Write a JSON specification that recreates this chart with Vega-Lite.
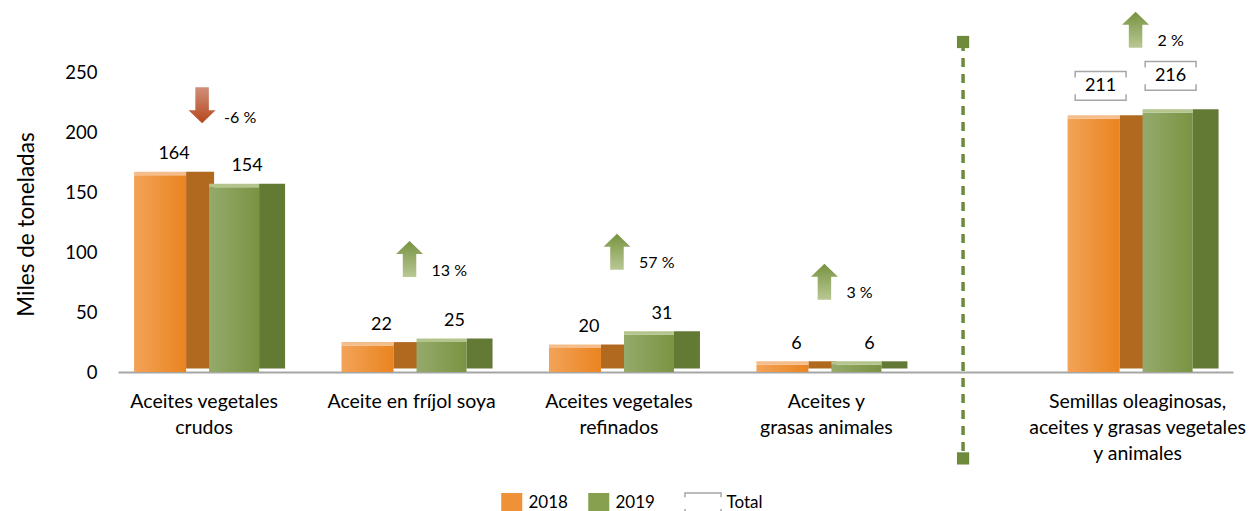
{
  "$schema": "https://vega.github.io/schema/vega-lite/v6.json",
  "width": 1115,
  "height": 360,
  "autosize": {"type": "none"},
  "padding": {"left": 118, "top": 12, "right": 17, "bottom": 139},
  "background": "white",
  "config": {
    "view": {"stroke": null},
    "font": "Lato",
    "text": {"font": "Lato", "color": "#000000"}
  },
  "data": {
    "values": [
      {"cat": "Aceites vegetales crudos", "year": "2018", "value": 164, "change": "-6 %", "dir": "down"},
      {"cat": "Aceites vegetales crudos", "year": "2019", "value": 154, "change": "-6 %", "dir": "down"},
      {"cat": "Aceite en fríjol soya", "year": "2018", "value": 22, "change": "13 %", "dir": "up"},
      {"cat": "Aceite en fríjol soya", "year": "2019", "value": 25, "change": "13 %", "dir": "up"},
      {"cat": "Aceites vegetales refinados", "year": "2018", "value": 20, "change": "57 %", "dir": "up"},
      {"cat": "Aceites vegetales refinados", "year": "2019", "value": 31, "change": "57 %", "dir": "up"},
      {"cat": "Aceites y grasas animales", "year": "2018", "value": 6, "change": "3 %", "dir": "up"},
      {"cat": "Aceites y grasas animales", "year": "2019", "value": 6, "change": "3 %", "dir": "up"},
      {"cat": "Semillas oleaginosas, aceites y grasas vegetales y animales", "year": "2018", "value": 211, "change": "2 %", "dir": "up"},
      {"cat": "Semillas oleaginosas, aceites y grasas vegetales y animales", "year": "2019", "value": 216, "change": "2 %", "dir": "up"}
    ]
  },
  "encoding": {
    "x": {
      "field": "cat",
      "type": "nominal",
      "scale": {
        "domain": ["s0", "Aceites vegetales crudos", "s1", "s2", "s3", "Aceite en fríjol soya", "s4", "s5", "s6", "Aceites vegetales refinados", "s7", "s8", "s9", "Aceites y grasas animales", "s10", "s11", "sep", "s12", "s13", "Semillas oleaginosas, aceites y grasas vegetales y animales", "s14"],
        "paddingInner": 0,
        "paddingOuter": 0.25,
        "align": 0.32
      },
      "axis": {
        "title": null,
        "ticks": false,
        "tickSize": 0,
        "grid": false,
        "domainColor": "#a6a6a6",
        "domainWidth": 2,
        "labelAngle": 0,
        "labelFont": "Lato",
        "labelFontSize": 19.5,
        "labelColor": "#000000",
        "labelPadding": 20,
        "labelLineHeight": 26,
        "labelLimit": 0,
        "labelOverlap": false,
        "labelFlush": false,
        "labelExpr": "datum.value == 'Aceites vegetales crudos' ? ['Aceites vegetales', 'crudos'] : datum.value == 'Aceites vegetales refinados' ? ['Aceites vegetales', 'refinados'] : datum.value == 'Aceites y grasas animales' ? ['Aceites y', 'grasas animales'] : datum.value == 'Semillas oleaginosas, aceites y grasas vegetales y animales' ? ['Semillas oleaginosas,', 'aceites y grasas vegetales', 'y animales'] : datum.value == 'Aceite en fríjol soya' ? datum.value : ''"
      }
    },
    "y": {
      "field": "value",
      "type": "quantitative",
      "scale": {"domain": [0, 300]},
      "axis": {
        "title": "Miles de toneladas",
        "titleFont": "Lato",
        "titleFontSize": 22.5,
        "titleFontWeight": "normal",
        "titleColor": "#000000",
        "titlePadding": 26,
        "titleY": 212,
        "values": [0, 50, 100, 150, 200, 250],
        "domain": false,
        "ticks": false,
        "grid": false,
        "labelFont": "Lato",
        "labelFontSize": 18.5,
        "labelColor": "#000000",
        "labelPadding": 21
      }
    }
  },
  "layer": [
    {
      "transform": [{"filter": "datum.year == '2018' && datum.dir == 'down'"}],
      "mark": {"type": "rule", "color": "#6e8b3d", "strokeWidth": 3.5, "strokeDash": [9, 7]},
      "encoding": {
        "x": {"datum": "sep", "type": "nominal", "bandPosition": 0.135},
        "y": {"datum": 275, "type": "quantitative"},
        "y2": {"datum": -72}
      }
    },
    {
      "transform": [{"filter": "datum.year == '2018' && datum.dir == 'down'"}],
      "mark": {"type": "square", "filled": true, "size": 150, "color": "#6e8b3d", "opacity": 1},
      "encoding": {
        "x": {"datum": "sep", "type": "nominal", "bandPosition": 0.135},
        "y": {"datum": 275, "type": "quantitative"}
      }
    },
    {
      "transform": [{"filter": "datum.year == '2018' && datum.dir == 'down'"}],
      "mark": {"type": "square", "filled": true, "size": 150, "color": "#6e8b3d", "opacity": 1},
      "encoding": {
        "x": {"datum": "sep", "type": "nominal", "bandPosition": 0.135},
        "y": {"datum": -72, "type": "quantitative"}
      }
    },
    {
      "transform": [{"filter": {"field": "year", "equal": "2018"}}],
      "mark": {"type": "bar", "width": 52, "xOffset": -44, "fill": {"gradient": "linear", "x1": 0, "x2": 1, "y1": 0, "y2": 0, "stops": [{"offset": 0, "color": "#f2a358"}, {"offset": 1, "color": "#ea8420"}]}}
    },
    {
      "transform": [{"filter": {"field": "year", "equal": "2018"}}],
      "mark": {"type": "bar", "width": 28, "xOffset": -4, "yOffset": -3.5, "fill": "#b0691e"}
    },
    {
      "transform": [{"filter": {"field": "year", "equal": "2018"}}],
      "mark": {"type": "tick", "orient": "horizontal", "size": 52, "thickness": 3.5, "xOffset": -44, "yOffset": -1.75, "color": "#f4bd8a", "opacity": 1}
    },
    {
      "transform": [{"filter": {"field": "year", "equal": "2019"}}],
      "mark": {"type": "bar", "width": 50, "xOffset": 30, "fill": {"gradient": "linear", "x1": 0, "x2": 1, "y1": 0, "y2": 0, "stops": [{"offset": 0, "color": "#95aa6b"}, {"offset": 1, "color": "#7a9342"}]}}
    },
    {
      "transform": [{"filter": {"field": "year", "equal": "2019"}}],
      "mark": {"type": "bar", "width": 26, "xOffset": 68, "yOffset": -3.5, "fill": "#637a34"}
    },
    {
      "transform": [{"filter": {"field": "year", "equal": "2019"}}],
      "mark": {"type": "tick", "orient": "horizontal", "size": 50, "thickness": 3.5, "xOffset": 30, "yOffset": -1.75, "color": "#b3c58c", "opacity": 1}
    },
    {
      "transform": [{"filter": {"field": "year", "equal": "2018"}}, {"filter": "datum.cat != 'Semillas oleaginosas, aceites y grasas vegetales y animales'"}],
      "mark": {"type": "text", "fontSize": 18, "xOffset": -30, "yOffset": -21, "baseline": "middle"},
      "encoding": {"text": {"field": "value", "type": "quantitative"}}
    },
    {
      "transform": [{"filter": {"field": "year", "equal": "2019"}}, {"filter": "datum.cat != 'Semillas oleaginosas, aceites y grasas vegetales y animales'"}],
      "mark": {"type": "text", "fontSize": 18, "xOffset": 43, "yOffset": -21, "baseline": "middle"},
      "encoding": {"text": {"field": "value", "type": "quantitative"}}
    },
    {
      "transform": [{"filter": {"field": "year", "equal": "2018"}}, {"filter": "datum.cat == 'Semillas oleaginosas, aceites y grasas vegetales y animales'"}],
      "mark": {"type": "text", "fontSize": 18, "xOffset": -37, "yOffset": -33, "baseline": "middle"},
      "encoding": {"text": {"field": "value", "type": "quantitative"}}
    },
    {
      "transform": [{"filter": {"field": "year", "equal": "2019"}}, {"filter": "datum.cat == 'Semillas oleaginosas, aceites y grasas vegetales y animales'"}],
      "mark": {"type": "text", "fontSize": 18, "xOffset": 33, "yOffset": -37, "baseline": "middle"},
      "encoding": {"text": {"field": "value", "type": "quantitative"}}
    },
    {
      "transform": [{"filter": {"field": "year", "equal": "2018"}}, {"filter": "datum.cat == 'Semillas oleaginosas, aceites y grasas vegetales y animales'"}],
      "mark": {"type": "point", "size": 2450, "strokeWidth": 1.5, "opacity": 1, "xOffset": -68.1, "yOffset": -33},
      "encoding": {
        "shape": {"datum": "\u2800\u2800Total", "type": "nominal", "scale": {"domain": ["2018", "2019", "\u2800\u2800Total"], "range": ["M-0.286,-0.557H0.829V0.557H-0.286Z", "M-0.286,-0.557H0.829V0.557H-0.286Z", "M0.23,-0.34V-0.58H2.287V-0.34M0.23,0.34V0.58H2.287V0.34"]}, "legend": {"title": null, "orient": "none", "legendX": 370.5, "legendY": 472.5, "direction": "horizontal", "symbolSize": 1225, "symbolStrokeWidth": 1.5, "labelFont": "Lato", "labelFontSize": 17, "labelColor": "#000000", "labelOffset": 3, "columnPadding": 7, "padding": 0}},
        "fill": {"datum": "\u2800\u2800Total", "type": "nominal", "scale": {"domain": ["2018", "2019", "\u2800\u2800Total"], "range": ["#ef9137", "#87a04f", "transparent"]}, "legend": {"title": null, "orient": "none", "legendX": 370.5, "legendY": 472.5, "direction": "horizontal", "symbolSize": 1225, "symbolStrokeWidth": 1.5, "labelFont": "Lato", "labelFontSize": 17, "labelColor": "#000000", "labelOffset": 3, "columnPadding": 7, "padding": 0}},
        "stroke": {"datum": "\u2800\u2800Total", "type": "nominal", "scale": {"domain": ["2018", "2019", "\u2800\u2800Total"], "range": ["#ef9137", "#87a04f", "#a6a6a6"]}, "legend": {"title": null, "orient": "none", "legendX": 370.5, "legendY": 472.5, "direction": "horizontal", "symbolSize": 1225, "symbolStrokeWidth": 1.5, "labelFont": "Lato", "labelFontSize": 17, "labelColor": "#000000", "labelOffset": 3, "columnPadding": 7, "padding": 0}}
      }
    },
    {
      "transform": [{"filter": {"field": "year", "equal": "2019"}}, {"filter": "datum.cat == 'Semillas oleaginosas, aceites y grasas vegetales y animales'"}],
      "mark": {"type": "point", "size": 2450, "strokeWidth": 1.5, "opacity": 1, "xOffset": 1.9, "yOffset": -37},
      "encoding": {
        "shape": {"datum": "\u2800\u2800Total", "type": "nominal"},
        "fill": {"datum": "\u2800\u2800Total", "type": "nominal"},
        "stroke": {"datum": "\u2800\u2800Total", "type": "nominal"}
      }
    },
    {
      "transform": [{"aggregate": [{"op": "max", "field": "value", "as": "value"}], "groupby": ["cat", "change", "dir"]}, {"filter": {"field": "dir", "equal": "up"}}],
      "mark": {"type": "point", "shape": "M0,-1L0.75,-0.28L0.375,-0.28L0.375,1L-0.375,1L-0.375,-0.28L-0.75,-0.28Z", "filled": true, "size": 1296, "opacity": 1, "strokeWidth": 0, "xOffset": -2, "yOffset": -83, "fill": {"gradient": "linear", "x1": 0, "x2": 0, "y1": 0, "y2": 1, "stops": [{"offset": 0, "color": "#779240"}, {"offset": 1, "color": "#b9c894"}]}}
    },
    {
      "transform": [{"aggregate": [{"op": "max", "field": "value", "as": "value"}], "groupby": ["cat", "change", "dir"]}, {"filter": {"field": "dir", "equal": "down"}}],
      "mark": {"type": "point", "shape": "M0,1L0.75,0.28L0.375,0.28L0.375,-1L-0.375,-1L-0.375,0.28L-0.75,0.28Z", "filled": true, "size": 1296, "opacity": 1, "strokeWidth": 0, "xOffset": -2, "yOffset": -70, "fill": {"gradient": "linear", "x1": 0, "x2": 0, "y1": 0, "y2": 1, "stops": [{"offset": 0, "color": "#d0907a"}, {"offset": 1, "color": "#b5461c"}]}}
    },
    {
      "transform": [{"aggregate": [{"op": "max", "field": "value", "as": "value"}], "groupby": ["cat", "change", "dir"]}, {"filter": {"field": "dir", "equal": "up"}}],
      "mark": {"type": "text", "fontSize": 16, "align": "left", "baseline": "middle", "xOffset": 20, "yOffset": -71.5},
      "encoding": {"text": {"field": "change", "type": "nominal"}}
    },
    {
      "transform": [{"aggregate": [{"op": "max", "field": "value", "as": "value"}], "groupby": ["cat", "change", "dir"]}, {"filter": {"field": "dir", "equal": "down"}}],
      "mark": {"type": "text", "fontSize": 16, "align": "left", "baseline": "middle", "xOffset": 20, "yOffset": -57.5},
      "encoding": {"text": {"field": "change", "type": "nominal"}}
    }
  ]
}
